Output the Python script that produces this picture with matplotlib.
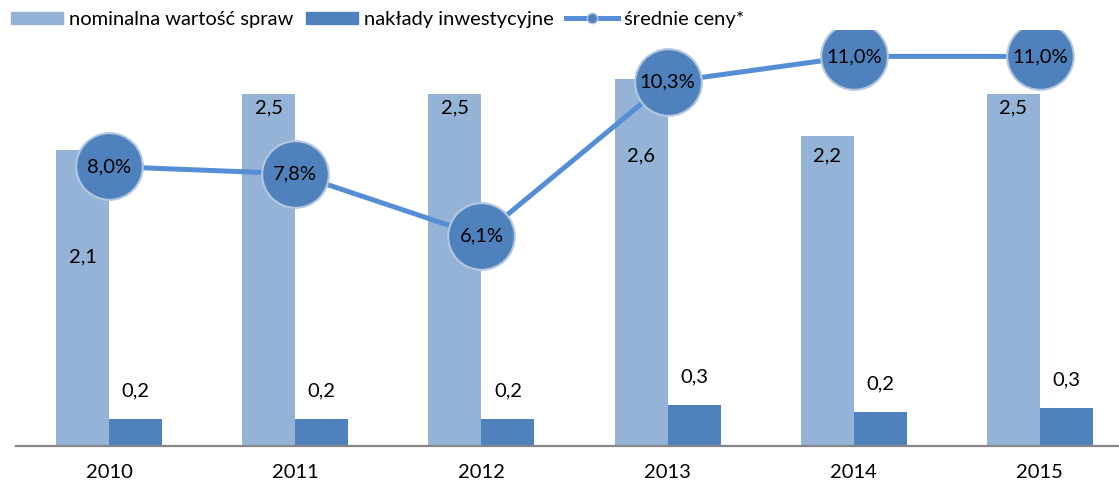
import matplotlib.pyplot as plt
import numpy as np
from matplotlib.patches import Patch
from matplotlib.lines import Line2D

plt.rcParams['font.family'] = ['Lato', 'DejaVu Sans']

# data
years = ['2010', '2011', '2012', '2013', '2014', '2015']
nominal = [2.1, 2.5, 2.5, 2.6, 2.2, 2.5]
invest = [0.19, 0.19, 0.19, 0.29, 0.24, 0.27]
prices = [8.0, 7.8, 6.1, 10.3, 11.0, 11.0]
# where the labels of the light bars sit (data units)
nominal_label_y = [1.34, 2.40, 2.40, 2.06, 2.06, 2.40]

c_light = '#95B3D7'
c_dark = '#4F81BD'
c_line = '#558ED5'
fs = 14.5

W, H = 1119, 486
fig = plt.figure(figsize=(W / 100, H / 100), dpi=100)
ax = fig.add_axes([16 / W, 40 / H, (1133 - 16) / W, 416 / H])

x = np.arange(len(years))
bw = 0.285
ax.bar(x - bw / 2, nominal, bw, color=c_light, zorder=2)
ax.bar(x + bw / 2, invest, bw, color=c_dark, zorder=2)

ax.set_xlim(-0.5, 5.5)
ax.set_ylim(0, 416 / 141)
for s in ['top', 'right', 'left']:
    ax.spines[s].set_visible(False)
ax.spines['bottom'].set_color('#868686')
ax.spines['bottom'].set_linewidth(1.6)
ax.set_yticks([])
ax.set_xticks(x)
ax.set_xticklabels(years, fontsize=fs)
ax.tick_params(axis='x', length=0, pad=13)

for i in range(len(years)):
    ax.text(x[i] - bw / 2, nominal_label_y[i], f'{nominal[i]:.1f}'.replace('.', ','),
            ha='center', va='center', fontsize=fs, zorder=3)
    ax.text(x[i] + bw / 2, invest[i] + 0.2, f'{invest[i]:.1f}'.replace('.', ','),
            ha='center', va='center', fontsize=fs, zorder=3)

ax2 = ax.twinx()
ax2.set_ylim(0.38, 11.72)
ax2.axis('off')
ax2.plot(x, prices, color=c_line, lw=3.6, marker='o', markersize=48,
         markerfacecolor=c_dark, markeredgecolor='#B4C7E0', markeredgewidth=1.5,
         zorder=4)
for i, v in enumerate(prices):
    ax2.text(x[i], v, f'{v:.1f}%'.replace('.', ','), ha='center', va='center',
             fontsize=fs, zorder=5)

# legend
handles = [Patch(color=c_light), Patch(color=c_dark),
           Line2D([], [], color=c_line, lw=3.6, marker='o', markersize=7.5,
                  markerfacecolor=c_dark, markeredgecolor='#B4C7E0')]
fig.legend(handles, ['nominalna wartość spraw', 'nakłady inwestycyjne', 'średnie ceny*'],
           loc='upper left', bbox_to_anchor=(0.0, 1.0), ncol=3, frameon=False,
           fontsize=fs, handlelength=2.6, handleheight=0.6, handletextpad=0.3,
           columnspacing=0.6, borderaxespad=0.15)

fig.savefig('out.png', dpi=100)
